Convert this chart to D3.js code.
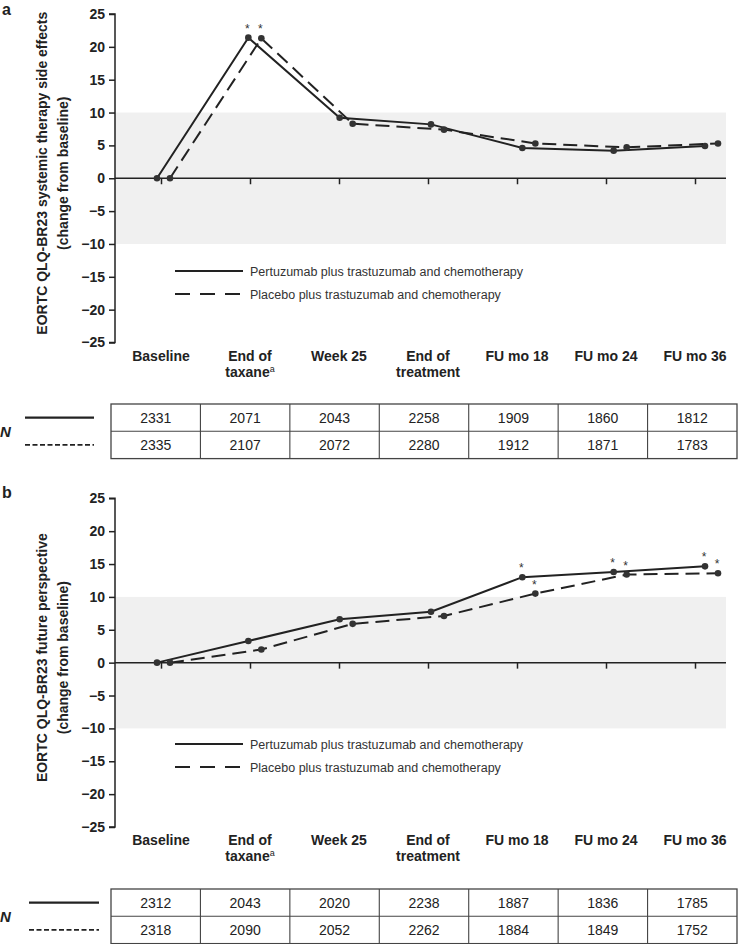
<!DOCTYPE html>
<html><head><meta charset="utf-8">
<script src="https://cdn.jsdelivr.net/npm/d3@7"></script>
<style>
body{margin:0;background:#fff}
svg{display:block}
text{font-family:"Liberation Sans",Arial,Helvetica,sans-serif}
</style>
</head><body>
<svg id="chart" width="739" height="944"></svg>
<script>
// ---------- data ----------
const categories = ["Baseline", "End of taxane", "Week 25", "End of treatment", "FU mo 18", "FU mo 24", "FU mo 36"];
const catLine1 = ["Baseline", "End of", "Week 25", "End of", "FU mo 18", "FU mo 24", "FU mo 36"];
const catLine2 = ["", "taxane", "", "treatment", "", "", ""];
const catSup = ["", "a", "", "", "", "", ""];
const yTicks = [-25, -20, -15, -10, -5, 0, 5, 10, 15, 20, 25];
const seriesNames = ["Pertuzumab plus trastuzumab and chemotherapy", "Placebo plus trastuzumab and chemotherapy"];

const aTitle = ["EORTC QLQ-BR23 systemic therapy side effects", "(change from baseline)"];
const aPertuzumab = [0, 21.4, 9.2, 8.2, 4.6, 4.2, 4.9];
const aPlacebo = [0, 21.3, 8.3, 7.4, 5.3, 4.7, 5.3];
const aPertuzumabSig = [false, true, false, false, false, false, false];
const aPlaceboSig = [false, true, false, false, false, false, false];
const aNPertuzumab = [2331, 2071, 2043, 2258, 1909, 1860, 1812];
const aNPlacebo = [2335, 2107, 2072, 2280, 1912, 1871, 1783];

const bTitle = ["EORTC QLQ-BR23 future perspective", "(change from baseline)"];
const bPertuzumab = [0, 3.3, 6.6, 7.75, 13.0, 13.8, 14.65];
const bPlacebo = [0, 2.0, 5.9, 7.1, 10.5, 13.4, 13.6];
const bPertuzumabSig = [false, false, false, false, true, true, true];
const bPlaceboSig = [false, false, false, false, true, true, true];
const bNPertuzumab = [2312, 2043, 2020, 2238, 1887, 1836, 1785];
const bNPlacebo = [2318, 2090, 2052, 2262, 1884, 1849, 1752];

// ---------- drawing ----------
const svg = d3.select("#chart");
const INK = "#222";
const axisX = 115, plotRight = 726;

function drawPanel(p) {
  const g = svg.append("g");
  const y = d3.scaleLinear().domain([-25, 25]).range([p.bottom, p.top]);
  const tickX = d3.scalePoint().domain(categories).range([161, 695]);
  const dataX = d3.scalePoint().domain(categories).range([157, 705]);
  const seriesOffset = [0, 13];

  // panel letter
  g.append("text").attr("x", 2).attr("y", p.letterY).attr("font-size", 16)
    .attr("font-weight", "bold").attr("fill", INK).text(p.letter);

  // shaded band
  g.append("rect").attr("x", axisX).attr("width", plotRight - axisX)
    .attr("y", y(10)).attr("height", y(-10) - y(10)).attr("fill", "#f0f0f0");

  // y axis
  const yAxis = d3.axisLeft(y).tickValues(yTicks).tickSize(6).tickPadding(4)
    .tickFormat(d => d < 0 ? "\u2212" + Math.abs(d) : d);
  const ya = g.append("g").attr("transform", `translate(${axisX},0)`).call(yAxis);
  ya.select(".domain").attr("stroke", INK).attr("stroke-width", 1.5).attr("d", `M-6,${y(25)}H0V${y(-25)}H-6`);
  ya.selectAll(".tick line").attr("stroke", INK).attr("stroke-width", 1.5);
  ya.selectAll(".tick text").attr("font-size", 14).attr("font-weight", "bold").attr("fill", INK)
    .attr("font-family", "'Liberation Sans',Arial,sans-serif");

  // y title
  const cy = (p.top + p.bottom) / 2 - 5;
  p.title.forEach((t, i) => {
    g.append("text").attr("transform", `translate(${i === 0 ? 47 : 68},${cy}) rotate(-90)`)
      .attr("text-anchor", "middle").attr("font-size", 14).attr("font-weight", "bold")
      .attr("fill", INK).text(t);
  });

  // zero line + x ticks
  const xAxis = d3.axisBottom(tickX).tickSize(6).tickFormat("");
  const xa = g.append("g").attr("transform", `translate(0,${y(0)})`).call(xAxis);
  xa.select(".domain").attr("d", `M${axisX},0H${plotRight}`).attr("stroke", INK).attr("stroke-width", 1.5);
  xa.selectAll(".tick line").attr("stroke", INK).attr("stroke-width", 1.5);

  // category labels
  categories.forEach((c, i) => {
    const t = g.append("text").attr("x", tickX(c)).attr("y", p.bottom + 18)
      .attr("text-anchor", "middle").attr("font-size", 14).attr("font-weight", "bold").attr("fill", INK);
    t.append("tspan").attr("x", tickX(c)).text(catLine1[i]);
    if (catLine2[i]) {
      t.append("tspan").attr("x", tickX(c)).attr("dy", 16).text(catLine2[i]);
      if (catSup[i]) {
        t.append("tspan").attr("font-size", 9).attr("font-weight", "normal").attr("dy", -5).text(catSup[i]);
      }
    }
  });

  // series
  const series = [
    {vals: p.s1, sig: p.sig1, dash: null, off: seriesOffset[0]},
    {vals: p.s2, sig: p.sig2, dash: "14,7", off: seriesOffset[1]}
  ];
  series.forEach(s => {
    const pts = categories.map((c, i) => [dataX(c) + s.off, y(s.vals[i]), s.sig[i]]);
    g.append("path").attr("d", d3.line()(pts.map(d => [d[0], d[1]])))
      .attr("fill", "none").attr("stroke", INK).attr("stroke-width", 2)
      .attr("stroke-dasharray", s.dash);
    g.selectAll(null).data(pts).join("circle")
      .attr("cx", d => d[0]).attr("cy", d => d[1]).attr("r", 3.3).attr("fill", "#333");
    g.selectAll(null).data(pts.filter(d => d[2])).join("text")
      .attr("x", d => d[0] - 1).attr("y", d => d[1] - 5).attr("text-anchor", "middle")
      .attr("font-size", 12).attr("fill", "#333").text("*");
  });

  // legend
  seriesNames.forEach((n, i) => {
    const ly = p.legendY + i * 23;
    g.append("line").attr("x1", 175).attr("x2", 243).attr("y1", ly).attr("y2", ly)
      .attr("stroke", INK).attr("stroke-width", 2).attr("stroke-dasharray", i ? "15,10" : null);
    g.append("text").attr("x", 250).attr("y", ly + 4.5).attr("font-size", 12.5).attr("fill", "#333").text(n);
  });

  // N table
  const tx = d3.scaleBand().domain(categories).range([111, 737]);
  const rowH = 27.3;
  const tTop = p.tableTop;
  const tg = g.append("g");
  tg.append("rect").attr("x", 111).attr("y", tTop).attr("width", 737 - 111).attr("height", 2 * rowH)
    .attr("fill", "none").attr("stroke", "#444").attr("stroke-width", 1.3);
  tg.append("line").attr("x1", 111).attr("x2", 737).attr("y1", tTop + rowH).attr("y2", tTop + rowH)
    .attr("stroke", "#444").attr("stroke-width", 1.1);
  categories.slice(1).forEach(c => {
    tg.append("line").attr("x1", tx(c)).attr("x2", tx(c)).attr("y1", tTop).attr("y2", tTop + 2 * rowH)
      .attr("stroke", "#444").attr("stroke-width", 1.1);
  });
  [p.n1, p.n2].forEach((row, r) => {
    categories.forEach((c, i) => {
      tg.append("text").attr("x", tx(c) + tx.bandwidth() / 2).attr("y", tTop + r * rowH + rowH / 2 + 5)
        .attr("text-anchor", "middle").attr("font-size", 14).attr("fill", INK).text(row[i]);
    });
    const ly = tTop + r * rowH + rowH / 2;
    tg.append("line").attr("x1", p.nLineX[0]).attr("x2", p.nLineX[1]).attr("y1", ly).attr("y2", ly)
      .attr("stroke", INK).attr("stroke-width", r ? 1.8 : 2.2).attr("stroke-dasharray", r ? "5,2.5" : null);
  });
  tg.append("text").attr("x", 0).attr("y", tTop + rowH + 6).attr("font-size", 15)
    .attr("font-style", "italic").attr("font-weight", "bold").attr("fill", INK).text("N");
}

drawPanel({letter: "a", letterY: 15, top: 14, bottom: 342.5, title: aTitle, s1: aPertuzumab, s2: aPlacebo,
  sig1: aPertuzumabSig, sig2: aPlaceboSig, n1: aNPertuzumab, n2: aNPlacebo,
  legendY: 271, tableTop: 404, nLineX: [25, 94]});
drawPanel({letter: "b", letterY: 498, top: 498.3, bottom: 827, title: bTitle, s1: bPertuzumab, s2: bPlacebo,
  sig1: bPertuzumabSig, sig2: bPlaceboSig, n1: bNPertuzumab, n2: bNPlacebo,
  legendY: 744, tableTop: 889, nLineX: [29, 99]});
</script>
</body></html>
